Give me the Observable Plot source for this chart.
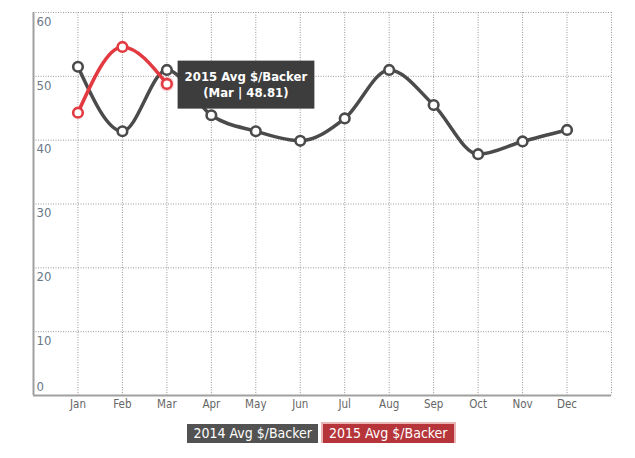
<!DOCTYPE html>
<html><head><meta charset="utf-8">
<script src="https://cdn.jsdelivr.net/npm/d3@7"></script>
<script src="https://cdn.jsdelivr.net/npm/@observablehq/plot@0.6"></script>
<style>
body{margin:0;background:#fff;font-family:"DejaVu Sans Condensed","DejaVu Sans",sans-serif;font-stretch:condensed;}
svg text{font-stretch:condensed;}
#legend{display:flex;justify-content:center;gap:5px;margin-top:6px;padding-left:6px;}
.item{color:#fff;font-size:14px;padding:0 6px;height:19px;line-height:19px;box-sizing:border-box;font-stretch:condensed;}
</style></head><body>
<div id="chart"></div>
<div id="legend"></div>
<script>
const months = ["Jan","Feb","Mar","Apr","May","Jun","Jul","Aug","Sep","Oct","Nov","Dec"];
const avg2014 = [51.5,41.4,51.0,43.9,41.4,39.9,43.4,51.0,45.5,37.8,39.8,41.6];
const avg2015 = [44.3,54.6,48.81];
const seriesNames = ["2014 Avg $/Backer","2015 Avg $/Backer"];
const lineColors = ["#4b4b4b","#e23a40"];
const legendColors = ["#525252","#b5353b"];
const yTicks = [0,10,20,30,40,50,60];
const hoverSeries = 1, hoverMonth = 2;

const rows = [];
avg2014.forEach((v,i)=>rows.push({m:i+1, v, s:seriesNames[0]}));
avg2015.forEach((v,i)=>rows.push({m:i+1, v, s:seriesNames[1]}));
const hover = [{m:hoverMonth+1, v:[avg2014,avg2015][hoverSeries][hoverMonth], s:seriesNames[hoverSeries]}];
hover[0].label = `${seriesNames[hoverSeries]}\n(${months[hoverMonth]} | ${hover[0].v.toFixed(2)})`;

const monthIdx = d3.range(1, months.length + 1);
const font = '"DejaVu Sans Condensed","DejaVu Sans",sans-serif';

const chart = Plot.plot({
  width: 635, height: 418,
  marginLeft: 33, marginRight: 24, marginTop: 12, marginBottom: 23,
  style: {display:"block", fontFamily: font, background:"#fff", overflow:"visible"},
  x: {domain:[0, months.length + 1], axis: null},
  y: {domain:[0, 60], axis: null},
  color: {domain: seriesNames, range: lineColors},
  marks: [
    Plot.ruleX([...monthIdx, months.length + 1], {stroke:"#999", strokeDasharray:"1,1.5", strokeWidth:1}),
    Plot.ruleY(yTicks.filter(t=>t>0), {stroke:"#999", strokeDasharray:"1,1.5", strokeWidth:1}),
    Plot.ruleY([0], {stroke:"#a0a0a0", strokeWidth:2}),
    Plot.ruleX([0], {stroke:"#a0a0a0", strokeWidth:2}),
    Plot.axisX(monthIdx, {label:null, tickSize:0, tickPadding:4, tickFormat: i=>months[i-1], fontSize:11.5, fill:"#666", fontFamily: font}),
    Plot.text(yTicks.filter(t=>t>0), {x:()=>0, y:d=>d, dx:3, dy:9, textAnchor:"start", fontSize:13, fill:"#6a7888"}),
    Plot.text([0], {x:()=>0, y:d=>d, dx:3, dy:-9, textAnchor:"start", fontSize:13, fill:"#6a7888"}),
    Plot.line(rows, {x:"m", y:"v", stroke:"s", z:"s", curve:"monotone-x", strokeWidth:3.5}),
    Plot.dot(hover, {x:"m", y:"v", r:7.5, fill:"s", fillOpacity:0.18, stroke:null}),
    Plot.dot(rows, {x:"m", y:"v", r:4.8, fill:"#fff", stroke:"s", strokeWidth:2.6}),
    Plot.text(hover, {x:"m", y:"v", text:"label", dx:79, dy:0, textAnchor:"middle", lineHeight:1.25,
      fontSize:13, fontWeight:"bold", fill:"#fff", ariaDescription:"tooltip"})
  ]
});
document.getElementById("chart").appendChild(chart);

// background box for the tooltip text (inserted inside the group so it shares its transform)
const textGroups = chart.querySelectorAll('g[aria-label="text"]');
const tg = chart.querySelector('g[aria-description="tooltip"]') || textGroups[textGroups.length - 1];
if (tg) {
  const bb = tg.getBBox();
  const cx = bb.x + bb.width / 2, cy = bb.y + bb.height / 2;
  const w = Math.max(bb.width + 14, 125), h = Math.max(bb.height + 12, 48);
  const rect = document.createElementNS("http://www.w3.org/2000/svg","rect");
  rect.setAttribute("x", cx - w / 2);
  rect.setAttribute("y", cy - h / 2);
  rect.setAttribute("width", w);
  rect.setAttribute("height", h);
  rect.setAttribute("fill", "#3d3d3d");
  tg.insertBefore(rect, tg.firstChild);
}

const legend = document.getElementById("legend");
seriesNames.forEach((n,i)=>{
  const d = document.createElement("div");
  d.className = "item";
  d.textContent = n;
  d.style.background = legendColors[i];
  if (i === hoverSeries) d.style.boxShadow = "0 0 0 2px rgba(225,150,150,0.7)";
  legend.appendChild(d);
});
</script>
</body></html>
